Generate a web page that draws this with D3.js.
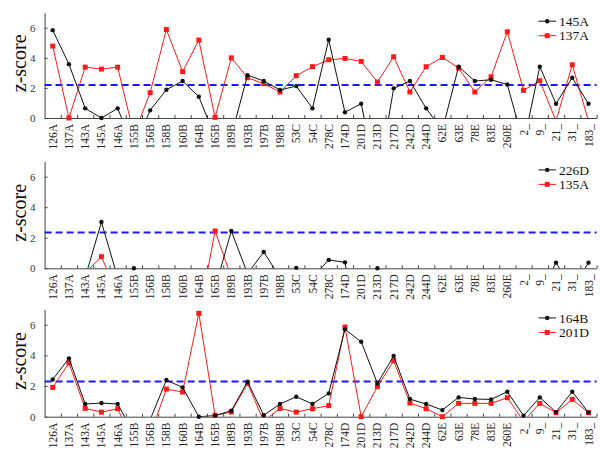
<!DOCTYPE html>
<html><head><meta charset="utf-8">
<script src="https://cdn.jsdelivr.net/npm/d3@7"></script>
<style>body{margin:0;background:#fff}svg{display:block}svg text{font-family:"Liberation Serif","DejaVu Serif",serif}</style>
</head><body>
<svg id="chart" width="600" height="450"></svg>
<script>
const categories = ["126A","137A","143A","145A","146A","155B","156B","158B","160B","164B","165B","189B","193B","197B","198B","53C","54C","278C","174D","201D","213D","217D","242D","244D","62E","63E","78E","83E","260E","2_","9_","21_","31_","183_"];

const seriesNames = [["145A","137A"],["226D","135A"],["164B","201D"]];
const thresholds = [2.2, 2.35, 2.3];
const yTicks = [0, 2, 4, 6];

// panel 1
const s145A = [5.84,3.58,0.64,0.0,0.64,-2.0,0.51,1.88,2.46,1.42,-1.3,-1.2,2.85,2.46,1.86,2.12,0.64,5.2,0.38,0.95,-4.3,1.97,2.46,0.64,-0.8,3.41,2.46,2.54,2.23,-1.7,3.41,0.95,2.68,0.95];
const s137A = [4.78,0.0,3.38,3.25,3.38,-1.1,1.68,5.88,3.08,5.18,0.04,4.0,2.68,2.28,1.73,2.81,3.41,3.87,3.96,3.76,2.39,4.07,1.73,3.41,4.03,3.32,1.73,2.74,5.73,1.84,2.48,-0.2,3.54,-0.2];
// panel 2 (null = not visible)
const s226D = [null,null,-0.6,3.03,-0.6,0.0,null,null,null,null,-1.3,2.44,-0.35,1.07,-0.6,0.03,-0.6,0.55,0.39,-5,0.0,null,null,null,null,null,null,null,null,null,-1.7,0.37,-1.35,0.37];
const s135A = [null,null,-0.3,0.76,-1.7,null,null,null,null,-3.2,2.44,-0.6,null,null,null,null,null,null,null,null,null,null,null,null,null,null,null,null,null,null,null,null,null,null];
// panel 3
const s164B = [2.43,3.8,0.83,0.89,0.83,-1.1,-0.2,2.39,1.91,0.0,0.07,0.39,2.28,0.09,0.83,1.3,0.83,1.52,5.7,4.89,2.17,3.96,1.15,0.83,0.43,1.26,1.15,1.13,1.63,0.07,1.26,0.3,1.63,0.28];
const s201D = [1.91,3.5,0.54,0.3,0.52,-1.8,-1.2,1.8,1.61,6.74,0.09,0.3,2.17,-0.3,0.54,0.3,0.52,0.72,5.85,0.0,1.96,3.65,0.89,0.52,0.0,0.87,0.87,0.87,1.24,-0.3,0.87,0.26,1.13,0.26];

const panelValues = [[s145A, s137A],[s226D, s135A],[s164B, s201D]];
const panelBox = [{top:12.7,bottom:118},{top:161.4,bottom:268.3},{top:309.4,bottom:416.7}];
const colors = ["#111","#ff1a1a"];
const serif = '"Liberation Serif","DejaVu Serif",serif';

const svg = d3.select("#chart");
const x = d3.scaleBand().domain(categories).range([44.6, 596.6]);
const xb = d3.scaleLinear().domain([0, categories.length]).range(x.range());

panelValues.forEach((vals, pi) => {
  const box = panelBox[pi];
  const y = d3.scaleLinear().domain([0, 7]).range([box.bottom, box.top]);
  const g = svg.append("g");

  const clipId = "clip" + pi;
  svg.append("clipPath").attr("id", clipId).append("rect")
    .attr("x", 44.6).attr("y", box.top - 5).attr("width", 560).attr("height", box.bottom - box.top + 5);

  // y axis
  const ya = g.append("g").attr("transform", `translate(44.6,0)`)
    .call(d3.axisLeft(y).tickValues(yTicks).tickFormat(d3.format("d")).tickSize(-3).tickSizeOuter(0).tickPadding(9));
  ya.attr("font-family", null);
  ya.select(".domain").attr("stroke", "#444");
  ya.selectAll(".tick line").attr("stroke", "#444");
  ya.selectAll("text").style("font-family", serif).style("font-size", "11px").attr("fill", "#333");

  // x axis labels
  const xa = g.append("g").attr("transform", `translate(0,${box.bottom})`)
    .call(d3.axisBottom(x).tickSize(0).tickSizeOuter(0));
  xa.attr("font-family", null);
  xa.select(".domain").attr("stroke", "#444");
  xa.selectAll("text").attr("transform", "rotate(-90)").attr("text-anchor", "end")
    .attr("x", -6).attr("y", 0).attr("dy", "0.35em")
    .style("font-family", serif).style("font-size", "11.5px").attr("fill", "#222");
  // boundary ticks (inward)
  const xt = g.append("g").attr("transform", `translate(0,${box.bottom})`)
    .call(d3.axisBottom(xb).tickValues(d3.range(1, categories.length + 1)).tickSize(-3).tickSizeOuter(0).tickFormat(""));
  xt.select(".domain").remove();
  xt.selectAll(".tick line").attr("stroke", "#444");

  // y label
  g.append("text").attr("transform", `translate(26,${(box.top + box.bottom) / 2 - 2}) rotate(-90)`)
    .attr("text-anchor", "middle").style("font-family", serif).style("font-size", "20px").attr("fill", "#111")
    .text("z-score");

  // threshold
  g.append("line").attr("x1", 44.6).attr("x2", 596.6)
    .attr("y1", y(thresholds[pi])).attr("y2", y(thresholds[pi]))
    .attr("stroke", "#1a1aff").attr("stroke-width", 2).attr("stroke-dasharray", "7,4");

  // series: red first, black on top
  [1, 0].forEach(si => {
    const data = vals[si].map((v, i) => ({c: categories[i], v}));
    const line = d3.line().defined(d => d.v !== null)
      .x(d => x(d.c) + x.bandwidth() / 2).y(d => y(d.v));
    g.append("path").datum(data).attr("d", line).attr("fill", "none")
      .attr("stroke", colors[si]).attr("stroke-width", 1).attr("clip-path", `url(#${clipId})`);
    const pts = data.filter(d => d.v !== null && d.v >= 0);
    if (si === 0) {
      g.selectAll(null).data(pts).enter().append("circle")
        .attr("cx", d => x(d.c) + x.bandwidth() / 2).attr("cy", d => y(d.v)).attr("r", 2.2).attr("fill", colors[0]);
    } else {
      g.selectAll(null).data(pts).enter().append("rect")
        .attr("x", d => x(d.c) + x.bandwidth() / 2 - 2.5).attr("y", d => y(d.v) - 2.5)
        .attr("width", 5).attr("height", 5).attr("fill", colors[1]);
    }
  });

  // legend
  seriesNames[pi].forEach((name, si) => {
    const ly = box.top + 8.5 + si * 14.5;
    const lg = g.append("g");
    lg.append("line").attr("x1", 538.5).attr("x2", 556).attr("y1", ly).attr("y2", ly)
      .attr("stroke", colors[si]).attr("stroke-width", 1);
    if (si === 0) lg.append("circle").attr("cx", 547.2).attr("cy", ly).attr("r", 2.2).attr("fill", colors[0]);
    else lg.append("rect").attr("x", 544.7).attr("y", ly - 2.5).attr("width", 5).attr("height", 5).attr("fill", colors[1]);
    lg.append("text").attr("x", 559).attr("y", ly).attr("dy", "0.35em")
      .style("font-family", serif).style("font-size", "13.5px").attr("fill", "#111").text(name);
  });
});
</script>
</body></html>
